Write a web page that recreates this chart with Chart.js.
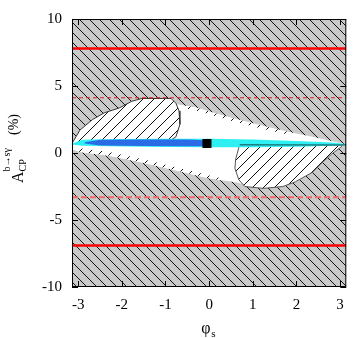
<!DOCTYPE html>
<html>
<head>
<meta charset="utf-8">
<script src="https://cdn.jsdelivr.net/npm/chart.js@4.4.1/dist/chart.umd.min.js"></script>
<style>
html,body{margin:0;padding:0;background:#fff}
</style>
</head>
<body>
<canvas id="myChart" width="353" height="338"></canvas>
<script>
const PI = Math.PI;
const xTicks = [-3, -2, -1, 0, 1, 2, 3];
const yTicks = [-10, -5, 0, 5, 10];

// full plot frame (excluded region, grey hatch)
const frameX = [-PI, PI, PI, -PI];
const frameY = [10, 10, -10, -10];

// allowed (white) region: upper edge left->right, then lower edge right->left
const allowedX = [-PI, -2.96, -2.67, -2.40, -2.06, -1.77, -1.54, -0.87, -0.74, -0.26, -0.04, 0.48, 1.60, 2.37, 3.04, PI,
                  PI, 2.95, 2.59, 1.98, 1.24, 0.97, 0.64, -0.04, -0.78, -1.54, -2.29, -2.96, -PI];
const allowedY = [0.71, 1.71, 2.50, 3.00, 3.36, 3.86, 4.07, 4.07, 3.64, 3.36, 3.14, 2.64, 1.71, 1.21, 0.71, 0.64,
                  0.60, 0.36, -0.71, -2.14, -2.64, -2.50, -2.21, -1.86, -1.29, -0.71, -0.21, 0.07, 0.29];

// hatched lobe above the band (left)
const lensX = [-PI, -2.96, -2.67, -2.40, -2.06, -1.77, -1.54, -0.87, -0.76, -0.69, -0.67, -0.76, -0.89, -1.20, -2.00, -PI];
const lensY = [0.71, 1.71, 2.50, 3.00, 3.36, 3.86, 4.07, 4.07, 3.70, 3.14, 2.14, 1.21, 0.93, 0.75, 0.72, 0.70];

// hatched lobe below the band (right)
const lobeX = [0.70, 0.61, 0.59, 0.68, 0.82, 1.24, 1.69, 1.98, 2.37, 2.59, 2.81, 3.04, 3.04];
const lobeY = [0.64, -0.43, -1.14, -2.00, -2.50, -2.64, -2.50, -2.14, -1.43, -0.71, -0.07, 0.50, 0.60];

// thin hatched slivers along the edges of the allowed region
const sliverLowX = [-PI, -2.96, -2.29, -1.54, -0.78, -0.04, 0.30, 0.30, -0.04, -0.78, -1.54, -2.29, -2.96, -PI];
const sliverLowY = [0.45, 0.35, 0.08, -0.45, -1.05, -1.65, -1.90, -2.05, -1.86, -1.29, -0.71, -0.21, 0.07, 0.29];
const sliverHighX = [-0.50, -0.26, -0.04, 0.48, 1.20, 1.90, 1.90, 1.20, 0.48, -0.04, -0.26, -0.50];
const sliverHighY = [3.52, 3.36, 3.14, 2.64, 2.05, 1.52, 1.30, 1.83, 2.42, 2.92, 3.14, 3.30];

// cyan band
const bandX = [-PI, -2.90, -2.00, -1.00, 0.00, 1.00, 2.00, 2.80, PI,
               PI, 2.80, 2.00, 1.00, 0.00, -1.00, -2.00, -2.90, -PI];
const bandY = [0.70, 0.98, 1.05, 1.07, 1.07, 1.00, 0.90, 0.78, 0.68,
               0.60, 0.55, 0.47, 0.43, 0.43, 0.45, 0.48, 0.55, 0.64];

// blue band
const blueX = [-2.85, -2.50, -1.50, -0.50, -0.10, -0.10, -0.50, -1.50, -2.50, -2.85];
const blueY = [0.80, 0.98, 1.00, 1.00, 0.95, 0.50, 0.50, 0.52, 0.56, 0.70];

// dark line on the right
const tealX = [0.70, 3.04, PI];
const tealY = [0.62, 0.60, 0.62];

// best fit point
const bestX = [-0.05];
const bestY = [0.71];

// red limits
const redSolid = [7.8, -6.9];
const redDashed = [4.12, -3.3];

function pts(xs, ys) { return xs.map((x, i) => ({x: x, y: ys[i]})); }

function hatch(bg, dir, p) {
  const c = document.createElement('canvas');
  c.width = p; c.height = p;
  const g = c.getContext('2d');
  g.fillStyle = bg; g.fillRect(0, 0, p, p);
  g.strokeStyle = '#111'; g.lineWidth = 1;
  g.beginPath();
  if (dir === '\\') {
    g.moveTo(-1, -1); g.lineTo(p + 1, p + 1);
    g.moveTo(p - 1, -1); g.lineTo(p + 1, 1);
    g.moveTo(-1, p - 1); g.lineTo(1, p + 1);
  } else {
    g.moveTo(-1, p + 1); g.lineTo(p + 1, -1);
    g.moveTo(-1, 1); g.lineTo(1, -1);
    g.moveTo(p - 1, p + 1); g.lineTo(p + 1, p - 1);
  }
  g.stroke();
  return g.createPattern(c, 'repeat');
}

const grey = hatch('#c9c9c9', '\\', 10);
const whiteHatch = hatch('#ffffff', '/', 11);

function region(xs, ys, fillStyle, order, border) {
  return {
    data: pts(xs, ys), showLine: true, fill: 'shape', backgroundColor: fillStyle,
    borderColor: border || 'rgba(0,0,0,0)', borderWidth: border ? 1 : 0,
    pointRadius: 0, order: order
  };
}
function hline(v, color, width, dash, order) {
  return {
    data: [{x: -PI, y: v}, {x: PI, y: v}], showLine: true, fill: false,
    borderColor: color, borderWidth: width, borderDash: dash, pointRadius: 0, order: order
  };
}

const datasets = [
  region(frameX, frameY, grey, 20),
  region(allowedX, allowedY, '#ffffff', 19),
  region(lensX, lensY, whiteHatch, 18, '#333'),
  region(lobeX, lobeY, whiteHatch, 17, '#555'),
  region(sliverLowX, sliverLowY, whiteHatch, 16),
  region(sliverHighX, sliverHighY, whiteHatch, 16),
  region(bandX, bandY, '#2ef0f2', 14),
  region(blueX, blueY, '#2b6be6', 13),
  {data: pts(tealX, tealY), showLine: true, fill: false, borderColor: '#1f7c80', borderWidth: 1.5, pointRadius: 0, order: 12},
  {data: pts(bestX, bestY), showLine: false, pointStyle: 'rect', pointRadius: 6.4,
   backgroundColor: '#000', borderColor: '#000', borderWidth: 0, order: 5},
  hline(redSolid[0], '#ff0000', 2.5, [], 2),
  hline(redSolid[1], '#ff0000', 2.5, [], 2),
  hline(redDashed[0], '#dd1a1a', 1, [4, 3], 3),
  hline(redDashed[1], '#f06868', 2, [6, 3], 3)
];

const frameAndLabels = {
  id: 'frameAndLabels',
  afterDraw(chart) {
    const {ctx, chartArea: a, scales: {x, y}} = chart;
    ctx.save();
    ctx.strokeStyle = '#000';
    ctx.lineWidth = 1;
    ctx.beginPath();
    xTicks.forEach(v => {
      const px = Math.round(x.getPixelForValue(v)) + 0.5;
      ctx.moveTo(px, a.bottom); ctx.lineTo(px, a.bottom - 6);
      ctx.moveTo(px, a.top); ctx.lineTo(px, a.top + 6);
    });
    yTicks.forEach(v => {
      const py = Math.round(y.getPixelForValue(v)) + 0.5;
      ctx.moveTo(a.left, py); ctx.lineTo(a.left + 6, py);
      ctx.moveTo(a.right, py); ctx.lineTo(a.right - 6, py);
    });
    ctx.stroke();
    ctx.strokeRect(a.left + 0.5, a.top + 0.5, a.right - a.left - 1, a.bottom - a.top - 1);

    ctx.fillStyle = '#000';
    // x title
    ctx.textBaseline = 'alphabetic';
    ctx.font = '16px "Liberation Serif"';
    const cx = (a.left + a.right) / 2;
    ctx.fillText('\u03c6', cx - 8, 333);
    ctx.font = '11px "Liberation Serif"';
    ctx.fillText('s', cx + 2, 337);

    // y title
    ctx.translate(23, 183);
    ctx.rotate(-Math.PI / 2);
    ctx.font = '16px "Liberation Serif"';
    ctx.fillText('A', 0, 0);
    const wA = ctx.measureText('A').width;
    ctx.font = '10px "Liberation Serif"';
    ctx.fillText('CP', wA, 3);
    ctx.fillText('b\u2192s\u03b3', wA, -13);
    ctx.font = '14px "Liberation Serif"';
    ctx.fillText('(%)', 48, -5);
    ctx.restore();
  }
};

const ctx = document.getElementById('myChart').getContext('2d');
const myChart = new Chart(ctx, {
  type: 'scatter',
  data: {datasets: datasets},
  options: {
    responsive: false,
    animation: false,
    devicePixelRatio: 1,
    layout: {padding: {top: 7, right: 2, left: 0, bottom: 0}},
    plugins: {legend: {display: false}, tooltip: {enabled: false}},
    scales: {
      x: {
        type: 'linear', min: -PI, max: PI,
        afterBuildTicks: s => { s.ticks = xTicks.map(v => ({value: v})); },
        afterFit: s => { s.height = 51; },
        grid: {display: false, drawTicks: false},
        border: {display: false},
        ticks: {padding: 9, color: '#000', font: {family: 'Liberation Serif', size: 15}}
      },
      y: {
        type: 'linear', min: -10, max: 10,
        afterBuildTicks: s => { s.ticks = yTicks.map(v => ({value: v})); },
        afterFit: s => { s.width = 72; },
        grid: {display: false, drawTicks: false},
        border: {display: false},
        ticks: {padding: 10, color: '#000', font: {family: 'Liberation Serif', size: 15}}
      }
    }
  },
  plugins: [frameAndLabels]
});
</script>
</body>
</html>
